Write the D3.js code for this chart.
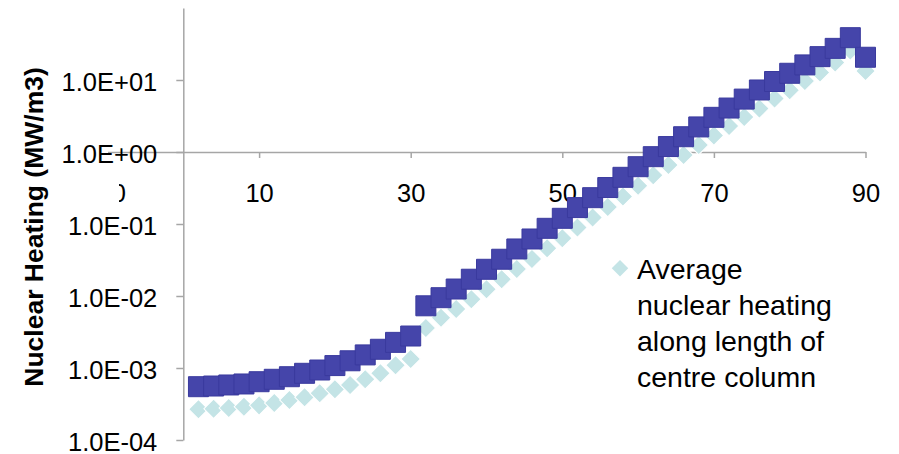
<!DOCTYPE html>
<html><head><meta charset="utf-8">
<script src="https://cdn.jsdelivr.net/npm/d3@7"></script>
<style>body{margin:0;background:#fff} text{font-family:"Liberation Sans",Arial,sans-serif;fill:#000}</style>
</head><body><svg id="c" width="899" height="454"></svg>
<script>
const positions = [2,4,6,8,10,12,14,16,18,20,22,24,26,28,30,32,34,36,38,40,42,44,46,48,50,52,54,56,58,60,62,64,66,68,70,72,74,76,78,80,82,84,86,88,90];
const averageHeating = [2.67e-4,2.72e-4,2.78e-4,2.90e-4,3.03e-4,3.27e-4,3.59e-4,3.92e-4,4.45e-4,5.06e-4,5.81e-4,6.97e-4,8.44e-4,1.09e-3,1.33e-3,
  3.6e-3,5.0e-3,6.6e-3,9.0e-3,1.24e-2,1.71e-2,2.37e-2,3.27e-2,4.60e-2,6.33e-2,8.94e-2,0.123,0.172,0.241,0.340,0.476,0.659,0.908,1.25,1.70,2.30,3.06,4.01,5.52,7.19,9.68,12.7,17.5,25.7,13.3];
const peakHeating = [5.50e-4,5.62e-4,5.81e-4,6.00e-4,6.45e-4,6.97e-4,7.57e-4,8.44e-4,9.38e-4,1.08e-3,1.26e-3,1.52e-3,1.82e-3,2.27e-3,2.78e-3,
  7.31e-3,9.47e-3,1.25e-2,1.71e-2,2.35e-2,3.24e-2,4.50e-2,6.19e-2,8.71e-2,0.120,0.169,0.232,0.321,0.445,0.625,0.861,1.19,1.63,2.23,3.03,4.08,5.43,7.27,9.53,12.4,16.2,21.1,27.5,38.7,20.7];
const yTickValues = [1e-4,1e-3,1e-2,1e-1,1e0,1e1];
const yTickLabels = ["1.0E-04","1.0E-03","1.0E-02","1.0E-01","1.0E+00","1.0E+01"];
const xTickValues = [10,30,50,70,90];
const xTickLabels = ["10","30","50","70","90"];
const xHiddenTick = -10;
const xHiddenLabel = "-10";
const yTitle = "Nuclear Heating (MW/m3)";
const legendLines = ["Average","nuclear heating","along length of","centre column"];

const svg = d3.select("#c");
const x = d3.scaleLinear().domain([-10,90]).range([107.5,865.5]);
const y = d3.scaleLog().domain([1e-4,1e2]).range([440,8]);
const axisColor = "#a6a6a6";

// x axis at y = 1
const xAxis = svg.append("g").attr("transform",`translate(0,${y(1)})`)
  .call(d3.axisBottom(x).tickValues(xTickValues).tickFormat((d,i)=>xTickLabels[i]).tickSize(6).tickSizeOuter(0));
xAxis.select(".domain").attr("stroke",axisColor).attr("stroke-width",1.5);
xAxis.selectAll(".tick line").attr("stroke",axisColor).attr("stroke-width",1.5);
xAxis.selectAll(".tick text").attr("y",49.5).attr("dy",null).style("font-size","25.5px").attr("fill","#000");

// hidden (mostly obscured) -10 label
const clip = svg.append("clipPath").attr("id","lblclip");
clip.append("rect").attr("x",119).attr("y",170).attr("width",20).attr("height",40);
svg.append("text").attr("clip-path","url(#lblclip)").attr("x",x(xHiddenTick)).attr("y",y(1)+49.5)
  .attr("text-anchor","middle").style("font-size","25.5px").text(xHiddenLabel);

// y axis at x = 0
const yAxis = svg.append("g").attr("transform",`translate(${x(0)},0)`)
  .call(d3.axisLeft(y).tickValues(yTickValues).tickFormat((d,i)=>yTickLabels[i]).tickSize(7).tickPadding(19).tickSizeOuter(0));
yAxis.select(".domain").attr("stroke",axisColor).attr("stroke-width",1.5);
yAxis.selectAll(".tick line").attr("stroke",axisColor).attr("stroke-width",1.5);
yAxis.selectAll(".tick text").attr("dy","0.43em").style("font-size","25.5px").attr("fill","#000");

// y title
svg.append("text").attr("transform","translate(43,227) rotate(-90)").attr("text-anchor","middle")
  .style("font-size","26.5px").style("font-weight","bold").text(yTitle);

// diamonds
const diamond = d3.symbol().type(d3.symbolSquare).size(190);
svg.append("g").selectAll("path").data(positions).join("path")
  .attr("d",diamond).attr("transform",(d,i)=>`translate(${x(d)},${y(averageHeating[i])}) rotate(45)`)
  .attr("fill","#c4e4e6").attr("stroke","#ffffff").attr("stroke-width",1);

// squares
const square = d3.symbol().type(d3.symbolSquare).size(400);
svg.append("g").selectAll("path").data(positions).join("path")
  .attr("d",square).attr("transform",(d,i)=>`translate(${x(d)},${y(peakHeating[i])})`)
  .attr("fill","#4545aa").attr("stroke","#3a3a9e").attr("stroke-width",1);

// legend
svg.append("path").attr("d",d3.symbol().type(d3.symbolSquare).size(136)).attr("transform","translate(620,268.3) rotate(45)")
  .attr("fill","#c4e4e6");
const lg = svg.append("text").style("font-size","28.5px");
legendLines.forEach((t,i)=>{
  lg.append("tspan").attr("x",637).attr("y",279.3+i*35.8).text(t);
});
</script></body></html>
